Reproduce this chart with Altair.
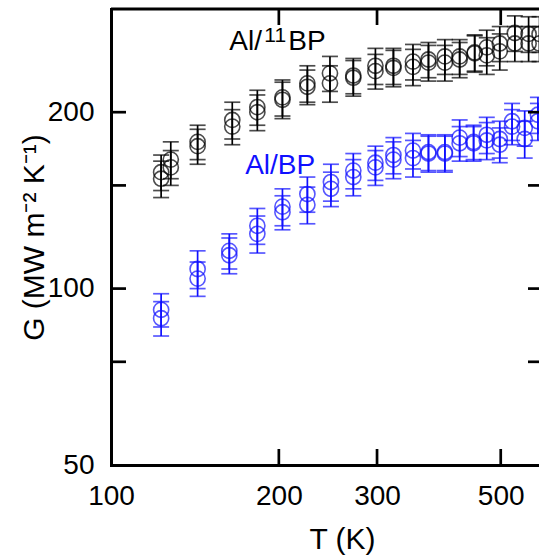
import altair as alt
import pandas as pd

# ---------------- data ----------------
SERIES = ["Al/11BP", "Al/BP"]
COLORS = ["#000000", "#1010ff"]

BLACK_T = [123, 128, 143, 165, 183, 203, 225, 247, 272, 298, 321, 348, 371, 397, 422, 449, 472, 498, 530, 561, 587]
BLACK_G_RUN1 = [158, 166, 178, 194, 204, 212, 224, 233, 231, 240, 240, 244, 246, 249, 249, 253, 258, 262, 273, 272, 272]
BLACK_G_RUN2 = [154, 161, 175, 189, 200, 210, 221, 224, 229, 235, 238, 239, 243, 243, 246, 252, 250, 254, 262, 262, 262]
BLACK_ERR_RUN1 = [11, 12, 12, 14, 14, 15, 16, 16, 16, 17, 17, 17, 17, 17, 17, 18, 18, 18, 19, 19, 19]
BLACK_ERR_RUN2 = [11, 11, 12, 13, 14, 15, 15, 16, 16, 16, 17, 17, 17, 17, 17, 18, 18, 18, 18, 18, 18]

BLUE_T = [123, 143, 163, 183, 203, 225, 248, 272, 298, 321, 348, 371, 397, 422, 447, 472, 498, 524, 552, 583]
BLUE_G_RUN1 = [92, 108, 116, 128, 138, 145, 152, 159, 164, 169, 172, 171, 171, 181, 178, 183, 180, 193, 188, 198]
BLUE_G_RUN2 = [89, 104, 114, 124, 135, 139, 148, 155, 161, 166, 167, 170, 170, 177, 177, 179, 176, 189, 180, 193]
BLUE_ERR_RUN1 = [6, 8, 8, 9, 10, 10, 11, 11, 11, 12, 12, 12, 12, 13, 12, 13, 13, 14, 13, 14]
BLUE_ERR_RUN2 = [6, 7, 8, 9, 9, 10, 10, 11, 11, 12, 12, 12, 12, 12, 12, 13, 12, 13, 13, 14]

X_LABEL_VALUES = [100, 200, 300, 500]
Y_LABEL_VALUES = [50, 100, 200]
X_FRAME_TICKS = [200, 300, 500]
Y_FRAME_TICKS = [75, 100, 150, 200]

X_DOMAIN = [100, 585.6]
Y_DOMAIN = [50, 300]

# label anchors (data coordinates)
LABEL_BLACK = {"T": 163.0, "G": 255.6}
LABEL_BLUE = {"T": 174.0, "G": 156.9}

# ---------------- tables ----------------
rows = []
for name, ts, runs in [
    (SERIES[0], BLACK_T, [(BLACK_G_RUN1, BLACK_ERR_RUN1), (BLACK_G_RUN2, BLACK_ERR_RUN2)]),
    (SERIES[1], BLUE_T, [(BLUE_G_RUN1, BLUE_ERR_RUN1), (BLUE_G_RUN2, BLUE_ERR_RUN2)]),
]:
    for gs, es in runs:
        for t, g, e in zip(ts, gs, es):
            rows.append({"series": name, "T": t, "G": g, "err": e})
df = pd.DataFrame(rows)

FONT = "Liberation Sans"
W, H = 428, 456

xscale = alt.Scale(type="log", domain=X_DOMAIN, nice=False, zero=False)
yscale = alt.Scale(type="log", domain=Y_DOMAIN, nice=False, zero=False)

x_axis = alt.Axis(
    values=X_LABEL_VALUES, format="d", labelFont=FONT, labelFontSize=28, labelColor="black",
    labelPadding=17, labelFlush=False, labelOverlap=False, ticks=False, grid=False,
    domainColor="black", domainWidth=3, domainCap="square",
    title="T (K)", titleFont=FONT, titleFontSize=30, titleFontWeight="normal", titleColor="black",
    titleX=231, titleY=83, titleAlign="center", titleBaseline="alphabetic",
)
y_axis = alt.Axis(
    values=Y_LABEL_VALUES, format="d", labelFont=FONT, labelFontSize=28, labelColor="black",
    labelPadding=17, labelFlush=False, labelOverlap=False, ticks=False, grid=False,
    domainColor="black", domainWidth=3, domainCap="square",
    title="G (MW m⁻² K⁻¹)", titleFont=FONT, titleFontSize=30, titleFontWeight="normal",
    titleColor="black", titleAngle=270, titleX=-68, titleY=228, titleAlign="center",
    titleBaseline="alphabetic",
)

color = alt.Color("series:N", scale=alt.Scale(domain=SERIES, range=COLORS), legend=None)
X = lambda f: alt.X(f, scale=xscale, axis=x_axis)
Y = lambda f: alt.Y(f, scale=yscale, axis=y_axis)

base = alt.Chart(df).transform_calculate(lo="datum.G - datum.err", hi="datum.G + datum.err")

bars = base.mark_rule(strokeWidth=1.7).encode(x=X("T:Q"), y=Y("lo:Q"), y2="hi:Q", color=color)
cap_lo = base.mark_tick(orient="horizontal", size=16, thickness=1.7).encode(x=X("T:Q"), y=Y("lo:Q"), color=color)
cap_hi = base.mark_tick(orient="horizontal", size=16, thickness=1.7).encode(x=X("T:Q"), y=Y("hi:Q"), color=color)
pts = base.mark_point(shape="circle", filled=False, size=230, strokeWidth=1.6).encode(
    x=X("T:Q"), y=Y("G:Q"), color=color
)

# frame: top border and inward ticks
top_line = alt.Chart(pd.DataFrame({"a": [0]})).mark_rule(color="black", strokeWidth=3).encode(
    x=alt.value(0), x2=alt.value(W), y=alt.value(0)
)
xt = pd.DataFrame({"v": X_FRAME_TICKS})
yt = pd.DataFrame({"v": Y_FRAME_TICKS})
bottom_ticks = alt.Chart(xt).mark_rule(color="black", strokeWidth=2.7).encode(
    x=X("v:Q"), y=alt.value(H), y2=alt.value(H - 16)
)
top_ticks = alt.Chart(xt).mark_rule(color="black", strokeWidth=2.7).encode(
    x=X("v:Q"), y=alt.value(0), y2=alt.value(16)
)
left_ticks = alt.Chart(yt).mark_rule(color="black", strokeWidth=2.7).encode(
    y=Y("v:Q"), x=alt.value(0), x2=alt.value(15)
)
right_ticks = alt.Chart(yt).mark_rule(color="black", strokeWidth=2.7).encode(
    y=Y("v:Q"), x=alt.value(W - 11), x2=alt.value(W)
)

lb = pd.DataFrame([LABEL_BLACK])
lbl = pd.DataFrame([LABEL_BLUE])
t1 = alt.Chart(lb).mark_text(align="left", baseline="alphabetic", font=FONT, fontSize=28, color=COLORS[0]).encode(
    x=X("T:Q"), y=Y("G:Q"), text=alt.value("Al/")
)
t2 = alt.Chart(lb).mark_text(align="left", baseline="alphabetic", font=FONT, fontSize=21, color=COLORS[0], dx=35, dy=-8).encode(
    x=X("T:Q"), y=Y("G:Q"), text=alt.value("11")
)
t3 = alt.Chart(lb).mark_text(align="left", baseline="alphabetic", font=FONT, fontSize=28, color=COLORS[0], dx=59).encode(
    x=X("T:Q"), y=Y("G:Q"), text=alt.value("BP")
)
t4 = alt.Chart(lbl).mark_text(align="left", baseline="alphabetic", font=FONT, fontSize=28, color=COLORS[1]).encode(
    x=X("T:Q"), y=Y("G:Q"), text=alt.value("Al/BP")
)

chart = alt.layer(
    bars, cap_lo, cap_hi, pts,
    top_line, bottom_ticks, top_ticks, left_ticks, right_ticks,
    t1, t2, t3, t4,
).properties(
    width=W, height=H,
    padding={"left": 111, "top": 9, "right": 0, "bottom": 91},
    autosize=alt.AutoSizeParams(type="none"),
).configure_view(stroke=None).configure(background="white")

chart.save("out.html", embed_options={"renderer": "svg", "actions": False})
